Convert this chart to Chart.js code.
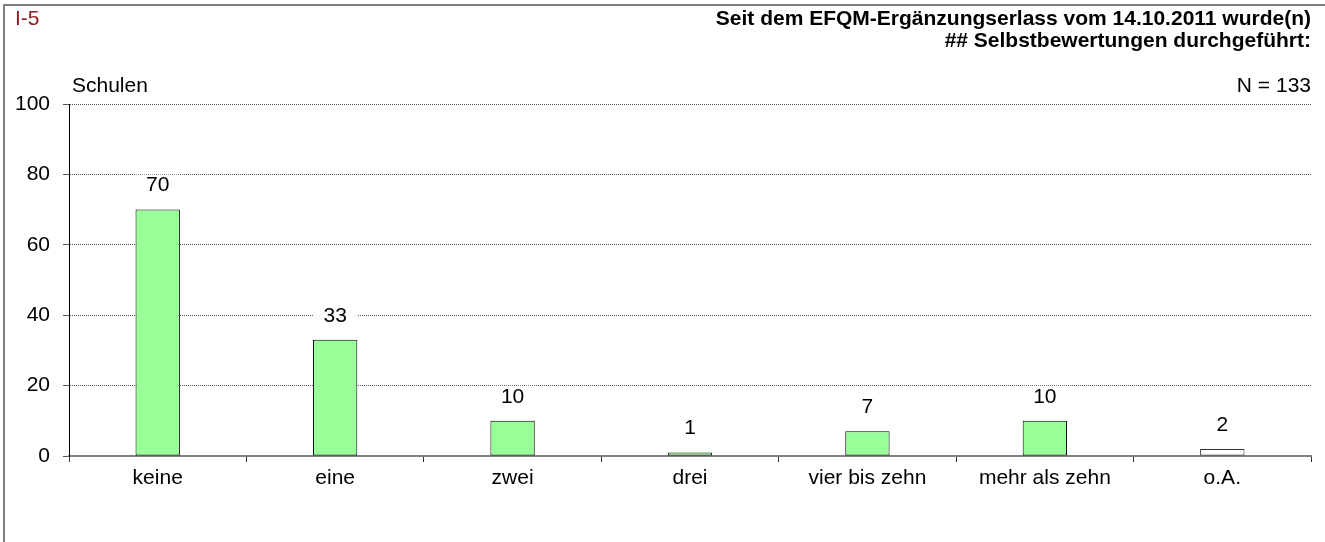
<!DOCTYPE html>
<html lang="de">
<head>
  <meta charset="UTF-8" />
  <title>I-5 Selbstbewertungen</title>
  <script src="https://cdn.jsdelivr.net/npm/chart.js"></script>
  <style>
    html, body { margin: 0; padding: 0; background: #fff; }
    .frame {
      position: absolute;
      left: 3px; top: 4px;
      width: 1322px; height: 538px;
      border-left: 2px solid #808080;
      border-top: 2px solid #808080;
    }
    .wrap { position: absolute; left: 0; top: 0; width: 1325px; height: 542px; }
  </style>
</head>
<body>
  <div class="frame"></div>
  <div class="wrap"><canvas id="chart" width="1325" height="542"></canvas></div>

  <script>
    const categories = ["keine", "eine", "zwei", "drei", "vier bis zehn", "mehr als zehn", "o.A."];
    const schulen = [70, 33, 10, 1, 7, 10, 2];
    const yTicks = [0, 20, 40, 60, 80, 100];

    const FONT = "'Liberation Sans', Arial, sans-serif";
    const SIZE = 21;

    // texts around the plot + value labels with white background
    const extras = {
      id: 'extras',
      afterDatasetsDraw(chart) {
        const ctx = chart.ctx;
        const area = chart.chartArea;
        ctx.save();
        ctx.textBaseline = 'middle';

        ctx.font = SIZE + "px " + FONT;
        ctx.fillStyle = '#8B1A1A';
        ctx.textAlign = 'left';
        ctx.fillText("I-5", 15, 19);

        ctx.fillStyle = '#000';
        ctx.fillText("Schulen", 72, 86);
        ctx.textAlign = 'right';
        ctx.fillText("N = 133", area.right, 86);

        ctx.font = "bold " + SIZE + "px " + FONT;
        ctx.fillText("Seit dem EFQM-Ergänzungserlass vom 14.10.2011 wurde(n)", area.right, 19);
        ctx.fillText("## Selbstbewertungen durchgeführt:", area.right, 41);

        // value labels
        ctx.font = SIZE + "px " + FONT;
        ctx.textAlign = 'center';
        const meta = chart.getDatasetMeta(0);
        meta.data.forEach((bar, i) => {
          const y = bar.y - 24;
          const w = bar.width;
          ctx.fillStyle = '#fff';
          ctx.fillRect(bar.x - w / 2, y - 11, w, 22);
          ctx.fillStyle = '#000';
          ctx.fillText(String(schulen[i]), bar.x, y);
        });
        ctx.restore();
      }
    };

    new Chart(document.getElementById('chart'), {
      type: 'bar',
      data: {
        labels: categories,
        datasets: [{
          label: 'Schulen',
          data: schulen,
          backgroundColor: schulen.map((v, i) => i === categories.length - 1 ? '#ffffff' : '#99ff99'),
          borderColor: schulen.map((v, i) => i === categories.length - 1 ? '#333333' : '#000000'),
          borderWidth: 1,
          borderSkipped: false,
          barPercentage: 0.25,
          categoryPercentage: 1
        }]
      },
      options: {
        responsive: false,
        animation: false,
        layout: { padding: { top: 104, right: 14, left: 0, bottom: 0 } },
        plugins: {
          legend: { display: false },
          tooltip: { enabled: false }
        },
        scales: {
          x: {
            grid: {
              display: true,
              offset: true,
              drawOnChartArea: false,
              drawTicks: true,
              tickLength: 6,
              color: '#333'
            },
            border: { color: '#808080', width: 2 },
            ticks: {
              color: '#000',
              font: { family: FONT, size: SIZE },
              padding: 4,
              maxRotation: 0
            },
            afterFit(scale) { scale.height = 86; }
          },
          y: {
            min: 0,
            max: 100,
            afterBuildTicks(scale) { scale.ticks = yTicks.map(v => ({ value: v })); },
            grid: {
              color: '#555',
              lineWidth: 1,
              tickLength: 6,
              drawTicks: true
            },
            border: { color: '#000', width: 1, dash: [1, 1] },
            ticks: {
              color: '#000',
              font: { family: FONT, size: SIZE },
              padding: 13
            },
            afterFit(scale) { scale.width = 69; }
          }
        }
      },
      plugins: [extras]
    });
  </script>
</body>
</html>
